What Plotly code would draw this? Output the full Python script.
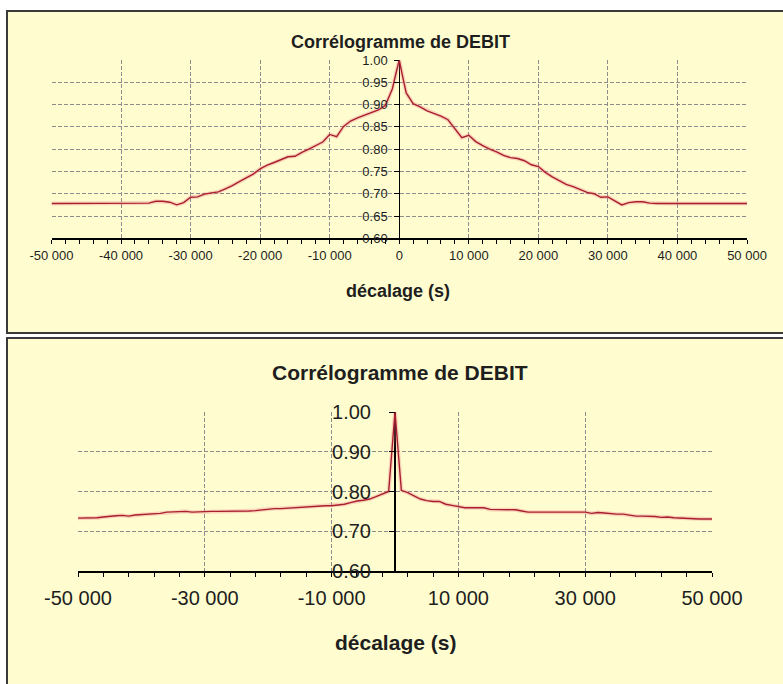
import plotly.graph_objects as go

W, H = 783, 684

# ---------------- data ----------------
# Top chart: lags (s) and correlation
TOP_X = list(range(-50000, -999, 1000)) + [-500, 0, 500] + list(range(1000, 50001, 1000))
TOP_Y = [
    0.678, 0.678, 0.678, 0.678, 0.678, 0.678, 0.678, 0.678, 0.678, 0.678,
    0.678, 0.678, 0.678, 0.678,                      # -50000 .. -37000
    0.679, 0.683, 0.683, 0.681, 0.675, 0.680, 0.692, 0.693, 0.699, 0.702,   # -36000 .. -27000
    0.704, 0.711, 0.718, 0.727, 0.736, 0.744, 0.756, 0.764, 0.770, 0.776,   # -26000 .. -17000
    0.783, 0.784, 0.793, 0.800, 0.808, 0.816, 0.833, 0.828, 0.851, 0.863,   # -16000 .. -7000
    0.870, 0.876, 0.881, 0.888, 0.898, 0.935,                               # -6000 .. -1000
    0.968, 1.000, 0.962,                                                    # -500, 0, 500
    0.926, 0.902, 0.895, 0.886, 0.880, 0.874, 0.866, 0.846, 0.826, 0.831,   # 1000 .. 10000
    0.817, 0.808, 0.800, 0.794, 0.786, 0.781, 0.779, 0.774, 0.765, 0.761,   # 11000 .. 20000
    0.748, 0.738, 0.729, 0.721, 0.716, 0.709, 0.703, 0.700, 0.692, 0.693,   # 21000 .. 30000
    0.683, 0.675, 0.680, 0.682, 0.682, 0.679,                               # 31000 .. 36000
    0.678, 0.678, 0.678, 0.678, 0.678, 0.678, 0.678, 0.678, 0.678, 0.678,
    0.678, 0.678, 0.678, 0.678,                                             # 37000 .. 50000
]

# Bottom chart
BOT_X = list(range(-50000, 50001, 1000))
BOT_Y = [
    0.733, 0.733, 0.733, 0.734, 0.736, 0.738, 0.739, 0.740, 0.738, 0.741,   # -50 .. -41 (k)
    0.742, 0.743, 0.744, 0.745, 0.748, 0.749, 0.750, 0.750, 0.748, 0.749,   # -40 .. -31
    0.750, 0.750, 0.750, 0.750, 0.750, 0.750, 0.750, 0.751, 0.752, 0.754,   # -30 .. -21
    0.756, 0.757, 0.757, 0.758, 0.759, 0.760, 0.761, 0.763, 0.763, 0.764,   # -20 .. -11
    0.764, 0.766, 0.768, 0.772, 0.776, 0.778, 0.781, 0.787, 0.793, 0.800,   # -10 .. -1
    1.000,                                                                  # 0
    0.803, 0.797, 0.789, 0.781, 0.777, 0.775, 0.775, 0.768, 0.765, 0.762,   # 1 .. 10
    0.759, 0.759, 0.759, 0.759, 0.755, 0.755, 0.755, 0.754, 0.754, 0.751,   # 11 .. 20
    0.748, 0.748, 0.748, 0.748, 0.748, 0.748, 0.748, 0.748, 0.748, 0.748,   # 21 .. 30
    0.745, 0.747, 0.746, 0.744, 0.743, 0.743, 0.740, 0.738, 0.738, 0.738,   # 31 .. 40
    0.737, 0.735, 0.736, 0.734, 0.733, 0.732, 0.732, 0.731, 0.731, 0.731,   # 41 .. 50
]

TITLE = "Corrélogramme de DEBIT"
XTITLE = "décalage (s)"

TOP_XTICKS = [-50000, -40000, -30000, -20000, -10000, 0, 10000, 20000, 30000, 40000, 50000]
TOP_XTICKTEXT = ["-50 000", "-40 000", "-30 000", "-20 000", "-10 000", "0",
                 "10 000", "20 000", "30 000", "40 000", "50 000"]
BOT_XTICKS = [-50000, -30000, -10000, 10000, 30000, 50000]
BOT_XTICKTEXT = ["-50 000", "-30 000", "-10 000", "10 000", "30 000", "50 000"]

# ---------------- style ----------------
FONT = "Liberation Sans, Arial, sans-serif"
PANEL = "#FFFDD0"
GRID = "#8c8c8c"
GDASH = "4px,2px"
LINE = "#A8202E"
HALO = "rgba(240,120,130,0.30)"
TXT = "#1e1e1e"


def px(x):
    return x / W


def py(y):
    return 1 - y / H


# plot area pixel boxes
T_L, T_R, T_T, T_B = 51.5, 747, 60, 238.3
B_L, B_R, B_T, B_B = 78, 712, 412, 571

fig = go.Figure()

for xs, ys, xa, ya in [(TOP_X, TOP_Y, "x", "y"), (BOT_X, BOT_Y, "x2", "y2")]:
    fig.add_trace(go.Scatter(x=xs, y=ys, xaxis=xa, yaxis=ya, mode="lines",
                             line=dict(color=HALO, width=4), hoverinfo="skip",
                             showlegend=False))
    fig.add_trace(go.Scatter(x=xs, y=ys, xaxis=xa, yaxis=ya, mode="lines",
                             line=dict(color=LINE, width=1.4), showlegend=False))


def xaxis_main(domain, anchor, ticks, text, minor_dtick, fsize, standoff):
    return dict(
        domain=domain, anchor=anchor, range=[-50000, 50000], automargin=False,
        tickmode="array", tickvals=ticks, ticktext=text,
        ticks="outside", ticklen=4, tickwidth=1, tickcolor="black",
        minor=dict(tick0=-50000, dtick=minor_dtick, ticks="outside", ticklen=4,
                   tickwidth=1, tickcolor="black", showgrid=False),
        showgrid=True, gridcolor=GRID, griddash=GDASH, gridwidth=1,
        showline=True, linecolor="black", linewidth=1.5,
        zeroline=True, zerolinecolor="black", zerolinewidth=1.5,
        tickfont=dict(family=FONT, size=fsize, color=TXT),
        ticklabelstandoff=standoff, fixedrange=True,
    )


def xaxis_over(overlay, anchor, ticks, minor_dtick):
    return dict(
        overlaying=overlay, anchor=anchor, range=[-50000, 50000], side="bottom",
        automargin=False,
        tickmode="array", tickvals=ticks, showticklabels=False,
        ticks="inside", ticklen=4, tickwidth=1, tickcolor="black",
        minor=dict(tick0=-50000, dtick=minor_dtick, ticks="inside", ticklen=4,
                   tickwidth=1, tickcolor="black", showgrid=False),
        showgrid=False, zeroline=False, showline=False, fixedrange=True,
    )


def yaxis_main(domain, pos, dtick, fsize, ticklen, standoff):
    return dict(
        domain=domain, anchor="free", position=pos, range=[0.6, 1.0], automargin=False,
        tickmode="linear", tick0=0.6, dtick=dtick, tickformat=".2f",
        ticks="outside", ticklen=ticklen, tickwidth=1, tickcolor="black",
        showgrid=True, gridcolor=GRID, griddash=GDASH, gridwidth=1,
        showline=False, zeroline=False,
        tickfont=dict(family=FONT, size=fsize, color=TXT),
        ticklabelstandoff=standoff, fixedrange=True,
    )


fig.update_layout(
    width=W, height=H, autosize=False,
    margin=dict(l=0, r=0, t=0, b=0, pad=0, autoexpand=False),
    paper_bgcolor="white", plot_bgcolor="white",
    showlegend=False,
    xaxis=xaxis_main([px(T_L), px(T_R)], "y", TOP_XTICKS, TOP_XTICKTEXT, 2000, 13, 1),
    yaxis=yaxis_main([py(T_B), py(T_T)], px((T_L + T_R) / 2), 0.05, 13, 5, 4),
    xaxis2=xaxis_main([px(B_L), px(B_R)], "y2", BOT_XTICKS, BOT_XTICKTEXT, 4000, 20, 4),
    yaxis2=yaxis_main([py(B_B), py(B_T)], px((B_L + B_R) / 2), 0.1, 20, 6, 14),
    xaxis3=xaxis_over("x", "y", TOP_XTICKS, 2000),
    xaxis4=xaxis_over("x2", "y2", BOT_XTICKS, 4000),
    shapes=[
        dict(type="rect", xref="paper", yref="paper", layer="below",
             x0=px(7), x1=px(790), y0=py(333), y1=py(11),
             fillcolor=PANEL, line=dict(color="#3a3a3a", width=2)),
        dict(type="rect", xref="paper", yref="paper", layer="below",
             x0=px(7), x1=px(790), y0=py(700), y1=py(338),
             fillcolor=PANEL, line=dict(color="#3a3a3a", width=2)),
    ],
    annotations=[
        dict(text="<b>" + TITLE + "</b>", xref="paper", yref="paper",
             x=px(400), y=py(42), xanchor="center", yanchor="middle", showarrow=False,
             font=dict(family=FONT, size=18, color=TXT)),
        dict(text="<b>" + XTITLE + "</b>", xref="paper", yref="paper",
             x=px(398), y=py(291), xanchor="center", yanchor="middle", showarrow=False,
             font=dict(family=FONT, size=18, color=TXT)),
        dict(text="<b>" + TITLE + "</b>", xref="paper", yref="paper",
             x=px(400), y=py(372), xanchor="center", yanchor="middle", showarrow=False,
             font=dict(family=FONT, size=21, color=TXT)),
        dict(text="<b>" + XTITLE + "</b>", xref="paper", yref="paper",
             x=px(395), y=py(642), xanchor="center", yanchor="middle", showarrow=False,
             font=dict(family=FONT, size=21, color=TXT)),
    ],
)

fig.write_html(
    "out.html",
    config={"responsive": False, "displayModeBar": False, "staticPlot": True},
    post_script="document.body.style.margin='0';document.body.style.overflow='hidden';",
)
